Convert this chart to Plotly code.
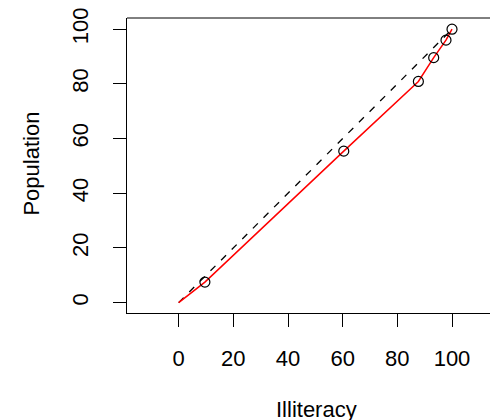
import plotly.graph_objects as go

# Data
illiteracy = [0, 9.6, 60.4, 87.7, 93.3, 97.8, 100]
population = [0, 7.5, 55.4, 80.9, 89.6, 96.0, 100]
diag_x = [0, 100]
diag_y = [0, 100]
tick_vals = [0, 20, 40, 60, 80, 100]
tick_text = ["0", "20", "40", "60", "80", "100"]

FONT = "Liberation Sans, Arial, sans-serif"
FS = 22

fig = go.Figure()
fig.add_trace(go.Scatter(x=diag_x, y=diag_y, mode="lines",
                         line=dict(color="black", width=1.3, dash="7px,8px"),
                         hoverinfo="skip"))
fig.add_trace(go.Scatter(x=illiteracy, y=population, mode="lines",
                         line=dict(color="red", width=1.5)))
fig.add_trace(go.Scatter(x=illiteracy[1:], y=population[1:], mode="markers",
                         marker=dict(symbol="circle-open", size=10,
                                     color="black", line=dict(width=1.2, color="black"))))

axis_common = dict(showgrid=False, zeroline=False, showline=True, linecolor="black",
                   linewidth=1, ticks="outside", ticklen=13, tickwidth=1,
                   tickcolor="black", tickvals=tick_vals, ticktext=tick_text,
                   tickfont=dict(family=FONT, size=FS, color="black"))

fig.update_layout(
    width=490, height=420,
    margin=dict(l=127, r=0, t=18, b=107, autoexpand=False),
    paper_bgcolor="white", plot_bgcolor="white",
    showlegend=False,
    font=dict(family=FONT, size=FS, color="black"),
    xaxis=dict(range=[-18.9, 113.9], ticklabelstandoff=13, automargin=False, **axis_common),
    yaxis=dict(range=[-3.8, 104.1], tickangle=-90, ticklabelstandoff=16, automargin=False,
               **axis_common),
    shapes=[dict(type="line", xref="paper", yref="paper", x0=0, x1=1, y0=1, y1=1,
                 line=dict(color="black", width=1))],
    annotations=[
        dict(text="Illiteracy", xref="paper", yref="paper", x=(316 - 127) / 363, y=0,
             yshift=-96, showarrow=False, font=dict(family=FONT, size=FS, color="black"),
             xanchor="center", yanchor="middle"),
        dict(text="Population", xref="paper", yref="paper", x=0, y=(312.7 - 163.3) / 295,
             xshift=-95, showarrow=False, textangle=-90,
             font=dict(family=FONT, size=FS, color="black"),
             xanchor="center", yanchor="middle"),
    ],
)

fig.write_html("out.html", config={"displayModeBar": False},
               post_script="document.body.style.margin='0';document.body.style.overflow='hidden';")
